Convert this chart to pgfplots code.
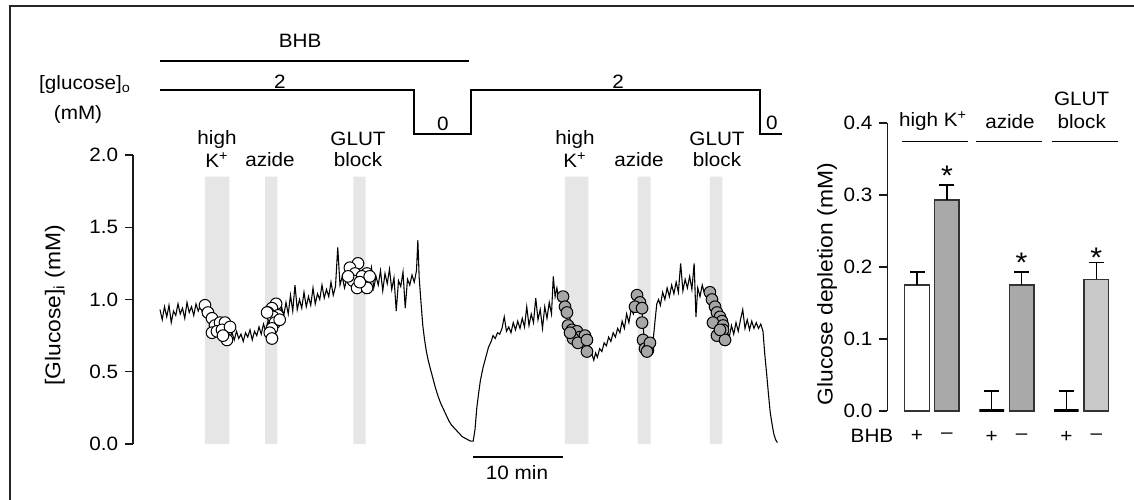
\documentclass[border=0pt]{standalone}
\usepackage{fontspec}
\setmainfont{Liberation Sans}[FakeStretch=1.07]
\usepackage{pgfplots}
\pgfplotsset{compat=1.18}
\definecolor{band}{HTML}{E6E6E6}
\definecolor{bargray}{HTML}{A9A9A9}
\definecolor{barlight}{HTML}{C8C8C8}
\definecolor{circgray}{HTML}{A6A6A6}
\definecolor{edge}{HTML}{333333}
\pgfplotsset{
  myaxis/.style={
    anchor=south west, scale only axis,
    axis x line=none, axis y line*=left,
    tick align=outside, major tick length=4.8pt,
    axis line style={line width=0.7pt, black!90},
    every tick/.append style={line width=0.7pt, black!90},
    clip=false,
    /pgf/number format/assume math mode=true,
    yticklabel style={/pgf/number format/.cd, fixed, fixed zerofill, precision=1},
  },
  barstyle/.style={ybar, bar width=0.82, bar shift=0pt, draw=edge, line width=0.8pt,
    error bars/y dir=plus, error bars/y explicit,
    error bars/error bar style={black, line width=0.8pt},
    error bars/error mark options={rotate=90, black, mark size=4.5pt, line width=0.8pt}}
}
\newcommand{\lab}{\fontsize{12.8}{14}\selectfont}
\newcommand{\sigstar}{\fontsize{17}{17}\selectfont *}
\begin{document}
\fontsize{11.6}{13}\selectfont
\begin{tikzpicture}
\useasboundingbox (0,0) rectangle (680.4pt,300pt);
\draw[line width=1.2pt, black!85] (6pt,0pt) -- (6pt,296.4pt) -- (680.4pt,296.4pt);

% ---------------- left panel: trace ----------------
\begin{axis}[myaxis, at={(79.8pt,33.6pt)}, width=394.2pt, height=173.4pt,
  xmin=-3, xmax=70, ymin=0, ymax=2, ytick={0,0.5,1,1.5,2}]
% application bands
\addplot[fill=band, draw=none] coordinates {(5,0) (5,1.85) (7.7,1.85) (7.7,0)} \closedcycle;
\addplot[fill=band, draw=none] coordinates {(11.67,0) (11.67,1.85) (13.03,1.85) (13.03,0)} \closedcycle;
\addplot[fill=band, draw=none] coordinates {(21.48,0) (21.48,1.85) (22.86,1.85) (22.86,0)} \closedcycle;
\addplot[fill=band, draw=none] coordinates {(45,0) (45,1.85) (47.59,1.85) (47.59,0)} \closedcycle;
\addplot[fill=band, draw=none] coordinates {(53.08,0) (53.08,1.85) (54.52,1.85) (54.52,0)} \closedcycle;
\addplot[fill=band, draw=none] coordinates {(61.11,0) (61.11,1.85) (62.48,1.85) (62.48,0)} \closedcycle;
% trace
\addplot[black, line width=0.65pt] table {
t y
0 0.93
0.25 0.86
0.5 0.95
0.75 0.88
1.0 0.96
1.25 0.84
1.5 0.92
1.75 0.89
2.0 0.97
2.25 0.90
2.5 0.94
2.75 0.87
3.0 0.98
3.25 0.91
3.5 0.95
3.75 0.89
4.0 0.97
4.25 0.92
4.5 0.96
4.75 0.90
5.0 0.95
5.25 0.90
5.5 0.92
5.75 0.86
6.0 0.88
6.25 0.82
6.5 0.85
6.75 0.79
7.0 0.82
7.25 0.76
7.5 0.80
7.75 0.74
8.0 0.77
8.25 0.72
8.5 0.78
8.75 0.73
9.0 0.76
9.25 0.71
9.5 0.77
9.75 0.74
10.0 0.79
10.25 0.72
10.5 0.78
10.75 0.75
11.0 0.81
11.25 0.76
11.5 0.83
11.75 0.78
12.0 0.85
12.25 0.80
12.5 0.88
12.75 0.83
13.0 0.92
13.25 0.87
13.5 0.95
13.75 0.89
14.0 0.98
14.25 0.90
14.5 1.03
14.75 0.92
15.0 1.10
15.25 0.93
15.5 1.00
15.75 0.94
16.0 1.05
16.25 0.95
16.5 1.02
16.75 0.96
17.0 1.08
17.25 0.97
17.5 1.04
17.75 1.00
18.0 1.10
18.25 1.01
18.5 1.07
18.75 1.02
19.0 1.12
19.25 1.03
19.5 1.09
19.75 1.36
20.0 1.10
20.25 1.16
20.5 1.08
20.75 1.14
21.0 1.20
21.25 1.12
21.5 1.18
21.75 1.10
22.0 1.22
22.25 1.11
22.5 1.17
22.75 1.06
23.0 1.19
23.25 1.12
23.5 1.22
23.75 1.08
24.0 1.16
24.25 1.10
24.5 1.20
24.75 1.06
25.0 1.18
25.25 1.11
25.5 1.21
25.75 1.07
26.0 1.15
26.25 0.92
26.5 1.13
26.75 1.09
27.0 1.19
27.25 0.94
27.5 1.14
27.75 1.10
28.0 1.17
28.25 1.12
28.5 1.20
28.65 1.41
28.8 1.15
29.0 0.98
29.2 0.82
29.4 0.72
29.6 0.64
29.8 0.58
30.0 0.53
30.3 0.46
30.6 0.39
30.9 0.33
31.2 0.28
31.5 0.24
31.8 0.20
32.1 0.16
32.4 0.13
32.7 0.11
33.0 0.09
33.3 0.07
33.6 0.05
33.9 0.04
34.2 0.03
34.5 0.02
34.8 0.02
35.0 0.10
35.2 0.25
35.4 0.35
35.6 0.44
35.9 0.53
36.2 0.60
36.5 0.67
36.8 0.71
37.0 0.75
37.25 0.73
37.5 0.77
37.75 0.76
38.0 0.80
38.25 0.88
38.5 0.78
38.75 0.81
39.0 0.77
39.25 0.84
39.5 0.79
39.75 0.85
40.0 0.80
40.25 0.87
40.5 0.81
40.75 0.95
41.0 0.82
41.25 0.90
41.5 0.84
41.75 1.01
42.0 0.86
42.25 0.93
42.5 0.80
42.75 0.95
43.0 0.87
43.25 0.98
43.5 0.90
43.7 1.16
43.9 1.02
44.1 1.08
44.3 1.00
44.5 1.04
44.75 0.98
45.0 1.00
45.25 0.93
45.5 0.88
45.75 0.82
46.0 0.80
46.25 0.76
46.5 0.79
46.75 0.73
47.0 0.75
47.25 0.70
47.5 0.72
47.75 0.66
48.0 0.62
48.2 0.58
48.4 0.63
48.6 0.60
48.85 0.66
49.1 0.64
49.35 0.70
49.6 0.68
49.85 0.74
50.1 0.71
50.35 0.77
50.6 0.74
50.85 0.80
51.1 0.77
51.35 0.85
51.6 0.80
51.85 0.90
52.1 0.84
52.35 0.93
52.6 0.90
52.85 1.00
53.0 1.03
53.3 0.98
53.55 0.92
53.7 0.80
53.85 0.70
54.0 0.66
54.2 0.64
54.4 0.66
54.6 0.70
54.8 0.72
55.0 0.85
55.2 0.97
55.4 1.00
55.6 0.96
55.85 1.05
56.1 1.00
56.35 1.08
56.6 1.02
56.85 1.10
57.1 1.04
57.35 1.12
57.6 1.05
57.85 1.25
58.1 1.06
58.35 1.14
58.6 1.08
58.85 1.16
59.1 1.07
59.35 1.25
59.55 0.88
59.75 1.08
60.0 1.02
60.25 1.10
60.5 1.04
60.75 1.07
61.0 1.05
61.25 1.00
61.5 0.96
61.75 0.91
62.0 0.88
62.25 0.84
62.5 0.80
62.75 0.74
63.0 0.78
63.25 0.74
63.5 0.82
63.75 0.76
64.0 0.84
64.25 0.78
64.5 0.86
64.75 0.93
65.0 0.80
65.25 0.86
65.5 0.79
65.75 0.85
66.0 0.80
66.25 0.84
66.5 0.80
66.75 0.83
67.0 0.78
67.2 0.62
67.4 0.49
67.6 0.35
67.8 0.22
68.0 0.14
68.2 0.07
68.4 0.03
68.6 0.01
};
% white circles (BHB present)
\addplot[only marks, mark=*, mark size=3.5pt, mark options={fill=white, draw=black, line width=0.6pt}] coordinates {
(5.0,0.96) (5.33,0.91) (5.78,0.87) (6.11,0.82) (6.67,0.84) (7.22,0.84) (5.78,0.77) (6.33,0.78) (6.89,0.79) (7.44,0.72) (7.78,0.81) (7.0,0.75)
(12.9,0.97) (12.44,0.94) (13.1,0.89) (12.0,0.91) (12.56,0.88) (12.78,0.84) (12.44,0.80) (12.2,0.77) (12.44,0.73) (13.3,0.86) (11.9,0.91)
(22.0,1.25) (21.1,1.22) (23.0,1.18) (21.67,1.18) (22.44,1.16) (21.44,1.13) (22.78,1.11) (21.9,1.08) (23.0,1.08) (22.2,1.12) (20.9,1.16) (23.3,1.16)
};
% gray circles (BHB absent)
\addplot[only marks, mark=*, mark size=3.5pt, mark options={fill=circgray, draw=black, line width=0.6pt}] coordinates {
(44.78,1.02) (45.0,0.95) (45.22,0.91) (45.33,0.82) (45.78,0.79) (46.33,0.78) (46.67,0.74) (47.22,0.75) (45.89,0.73) (46.44,0.70) (47.44,0.72) (47.44,0.64) (45.56,0.77)
(53.0,1.03) (53.33,0.98) (52.78,0.95) (53.56,0.94) (53.56,0.84) (53.67,0.72) (53.89,0.66) (54.22,0.65) (54.44,0.70) (54.11,0.64)
(61.1,1.05) (61.33,1.0) (61.67,0.95) (61.89,0.91) (62.22,0.88) (62.44,0.85) (61.44,0.84) (62.56,0.82) (62.56,0.79) (61.89,0.75) (62.78,0.72) (62.22,0.79)
};
% protocol
\draw[line width=0.7pt] (axis cs:0,2.65) -- (axis cs:34.33,2.65);
\node at (axis cs:15.56,2.79) {BHB};
\draw[line width=0.7pt] (axis cs:0,2.45) -- (axis cs:28.22,2.45) -- (axis cs:28.22,2.145) -- (axis cs:34.56,2.145) -- (axis cs:34.56,2.45) -- (axis cs:66.67,2.45) -- (axis cs:66.67,2.145) -- (axis cs:69.1,2.145);
\node at (axis cs:13.33,2.51) {2};
\node at (axis cs:50.9,2.51) {2};
\node at (axis cs:31.44,2.215) {0};
\node at (axis cs:68.0,2.22) {0};
\node at (axis cs:-8.33,2.49) {[glucose]\textsubscript{o}};
\node at (axis cs:-9.11,2.28) {(mM)};
% application labels
\node at (axis cs:6.33,2.11) {high};
\node at (axis cs:6.33,1.965) {K\textsuperscript{+}};
\node at (axis cs:12.22,1.965) {azide};
\node at (axis cs:22,2.11) {GLUT};
\node at (axis cs:22,1.965) {block};
\node at (axis cs:46.11,2.11) {high};
\node at (axis cs:46.11,1.965) {K\textsuperscript{+}};
\node at (axis cs:53.22,1.965) {azide};
\node at (axis cs:61.89,2.11) {GLUT};
\node at (axis cs:61.89,1.965) {block};
% scale bar
\draw[line width=1pt] (axis cs:34.78,-0.088) -- (axis cs:44.78,-0.088);
\node at (axis cs:39.67,-0.2) {10 min};
% y label
\node[rotate=90] at (axis cs:-11.67,0.96) {\lab [Glucose]\textsubscript{i} (mM)};
\end{axis}

% ---------------- right panel: bars ----------------
\begin{axis}[myaxis, at={(532.26pt,53.4pt)}, width=136.34pt, height=172.8pt,
  xmin=-1, xmax=6.6, ymin=0, ymax=0.4, ytick={0,0.1,0.2,0.3,0.4}]
\addplot[barstyle, fill=white] coordinates {(0,0.175) +- (0,0.018)};
\addplot[barstyle, fill=bargray] coordinates {(1,0.293) +- (0,0.021)};
\addplot[barstyle, fill=black, draw=black, line width=1.8pt] coordinates {(2.5,0) +- (0,0.028)};
\addplot[barstyle, fill=bargray] coordinates {(3.5,0.175) +- (0,0.018)};
\addplot[barstyle, fill=black, draw=black, line width=1.8pt] coordinates {(5,0) +- (0,0.028)};
\addplot[barstyle, fill=barlight] coordinates {(6,0.183) +- (0,0.023)};
% asterisks
\node[anchor=north, inner sep=0pt] at (axis cs:1,0.341) {\sigstar};
\node[anchor=north, inner sep=0pt] at (axis cs:3.5,0.2205) {\sigstar};
\node[anchor=north, inner sep=0pt] at (axis cs:6,0.2275) {\sigstar};
% group labels
\node at (axis cs:0.535,0.4022) {high K\textsuperscript{+}};
\node at (axis cs:3.11,0.4022) {azide};
\node at (axis cs:5.51,0.4341) {GLUT};
\node at (axis cs:5.51,0.4022) {block};
\draw[line width=0.6pt] (axis cs:-0.51,0.3749) -- (axis cs:1.70,0.3749);
\draw[line width=0.6pt] (axis cs:1.97,0.3749) -- (axis cs:4.18,0.3749);
\draw[line width=0.6pt] (axis cs:4.52,0.3749) -- (axis cs:6.72,0.3749);
% BHB row
\node at (axis cs:-1.505,-0.034) {BHB};
\node at (axis cs:0,-0.035) {+};
\node at (axis cs:1,-0.035) {–};
\node at (axis cs:2.5,-0.036) {+};
\node at (axis cs:3.5,-0.036) {–};
\node at (axis cs:5,-0.036) {+};
\node at (axis cs:6,-0.036) {–};
% y label
\node[rotate=90] at (axis cs:-3.01,0.176) {\lab Glucose depletion (mM)};
\end{axis}
\end{tikzpicture}
\end{document}
